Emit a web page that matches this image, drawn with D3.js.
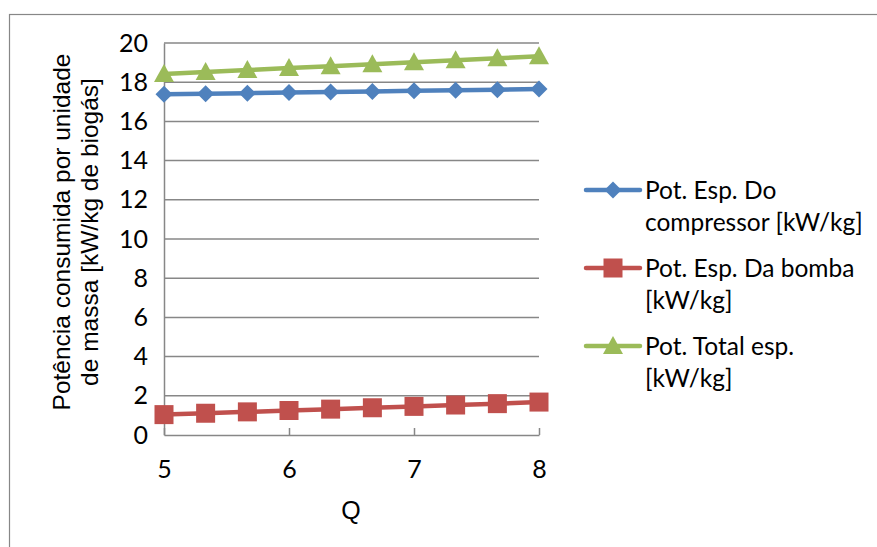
<!DOCTYPE html>
<html>
<head>
<meta charset="utf-8">
<script src="https://cdn.jsdelivr.net/npm/d3@7"></script>
<style>
  body { margin: 0; background: #fff; }
  text { fill: #000; }
</style>
</head>
<body>
<svg width="877" height="547"></svg>
<script>
var svg = d3.select("svg");

// data
var qValues = [5, 5.333, 5.667, 6, 6.333, 6.667, 7, 7.333, 7.667, 8];
var compressor = [17.38, 17.41, 17.44, 17.47, 17.5, 17.53, 17.56, 17.59, 17.62, 17.65];
var bomba = [1.04, 1.11, 1.18, 1.25, 1.32, 1.39, 1.46, 1.53, 1.6, 1.68];
var total = [18.42, 18.52, 18.62, 18.72, 18.82, 18.92, 19.02, 19.12, 19.22, 19.33];
var xTicks = [5, 6, 7, 8];
var yTicks = [0, 2, 4, 6, 8, 10, 12, 14, 16, 18, 20];
var seriesNames = [
  ["Pot. Esp. Do", "compressor [kW/kg]"],
  ["Pot. Esp. Da bomba", "[kW/kg]"],
  ["Pot. Total esp.", "[kW/kg]"]
];

var colors = ["#4F81BD", "#C0504D", "#9BBB59"];
var shapes = ["diamond", "square", "triangle"];
var labelFont = "Lato, 'Open Sans', sans-serif";
var gray = "#878787";

var xscale = d3.scaleLinear().domain([5, 8]).range([164, 539]);
var yscale = d3.scaleLinear().domain([0, 20]).range([435, 43]);

// outer chart border
svg.append("rect")
  .attr("x", 9.5).attr("y", 14.5)
  .attr("width", 900).attr("height", 600)
  .attr("fill", "none").attr("stroke", gray).attr("stroke-width", 1.2);

// gridlines
svg.append("g")
  .selectAll("line")
  .data(yTicks.slice(1))
  .enter()
  .append("line")
  .attr("x1", xscale(5)).attr("x2", xscale(8))
  .attr("y1", function (d) { return yscale(d); })
  .attr("y2", function (d) { return yscale(d); })
  .attr("stroke", gray).attr("stroke-width", 1.5);

// y axis
var yAxis = svg.append("g")
  .attr("transform", "translate(" + xscale(5) + ",0)")
  .call(d3.axisLeft(yscale).tickValues(yTicks).tickSize(0).tickPadding(16).tickFormat(d3.format("d")));
yAxis.select(".domain").attr("stroke", gray).attr("stroke-width", 1.5);
yAxis.selectAll("text")
  .style("font-family", labelFont).style("font-size", "25px");

// x axis, ticks point inward
var xAxis = svg.append("g")
  .attr("transform", "translate(0," + yscale(0) + ")")
  .call(d3.axisBottom(xscale).tickValues(xTicks).tickSize(-7).tickSizeOuter(0)
    .tickPadding(25).tickFormat(d3.format("d")));
xAxis.select(".domain").attr("stroke", gray).attr("stroke-width", 1.5);
xAxis.selectAll("line").attr("stroke", gray).attr("stroke-width", 1.5);
xAxis.selectAll("text")
  .style("font-family", labelFont).style("font-size", "25px");

// axis titles
svg.append("text")
  .attr("transform", "translate(70,232) rotate(-90)")
  .attr("text-anchor", "middle")
  .style("font-family", "'Liberation Sans', Arial, sans-serif")
  .style("font-size", "24.5px")
  .text("Potência consumida por unidade");
svg.append("text")
  .attr("transform", "translate(98,232) rotate(-90)")
  .attr("text-anchor", "middle")
  .style("font-family", "'Liberation Sans', Arial, sans-serif")
  .style("font-size", "24.5px")
  .text("de massa [kW/kg de biogás]");
svg.append("text")
  .attr("x", 351).attr("y", 519)
  .attr("text-anchor", "middle")
  .style("font-family", "'Liberation Sans', Arial, sans-serif")
  .style("font-size", "25px")
  .text("Q");

function marker(sel, shape, color) {
  if (shape === "diamond") {
    sel.append("path").attr("d", "M0,-8.5L8.5,0L0,8.5L-8.5,0Z").attr("fill", color);
  } else if (shape === "square") {
    sel.append("rect").attr("x", -9.5).attr("y", -9.5).attr("width", 19).attr("height", 19)
      .attr("fill", color);
  } else {
    sel.append("path").attr("d", "M0,-10L10,8L-10,8Z").attr("fill", color);
  }
}

var allSeries = [compressor, bomba, total];
var line = d3.line()
  .x(function (d, i) { return xscale(qValues[i]); })
  .y(function (d) { return yscale(d); });

allSeries.forEach(function (vals, s) {
  svg.append("path")
    .attr("d", line(vals))
    .attr("fill", "none")
    .attr("stroke", colors[s])
    .attr("stroke-width", 4.5)
    .attr("stroke-linejoin", "round");
  svg.append("g")
    .selectAll("g")
    .data(vals)
    .enter()
    .append("g")
    .attr("transform", function (d, i) {
      return "translate(" + xscale(qValues[i]) + "," + yscale(d) + ")";
    })
    .each(function () { marker(d3.select(this), shapes[s], colors[s]); });
});

// legend
var legendY = [190, 268, 346];
seriesNames.forEach(function (name, s) {
  var g = svg.append("g").attr("transform", "translate(0," + legendY[s] + ")");
  g.append("line").attr("x1", 586).attr("x2", 640).attr("y1", 0).attr("y2", 0)
    .attr("stroke", colors[s]).attr("stroke-width", 4.5).attr("stroke-linecap", "round");
  marker(g.append("g").attr("transform", "translate(613,0)"), shapes[s], colors[s]);
  g.append("text")
    .attr("x", 645).attr("y", 9)
    .style("font-family", labelFont).style("font-size", "24.5px")
    .text(name[0]);
  g.append("text")
    .attr("x", 645).attr("y", 41)
    .style("font-family", labelFont).style("font-size", "24.5px")
    .text(name[1]);
});
</script>
</body>
</html>
